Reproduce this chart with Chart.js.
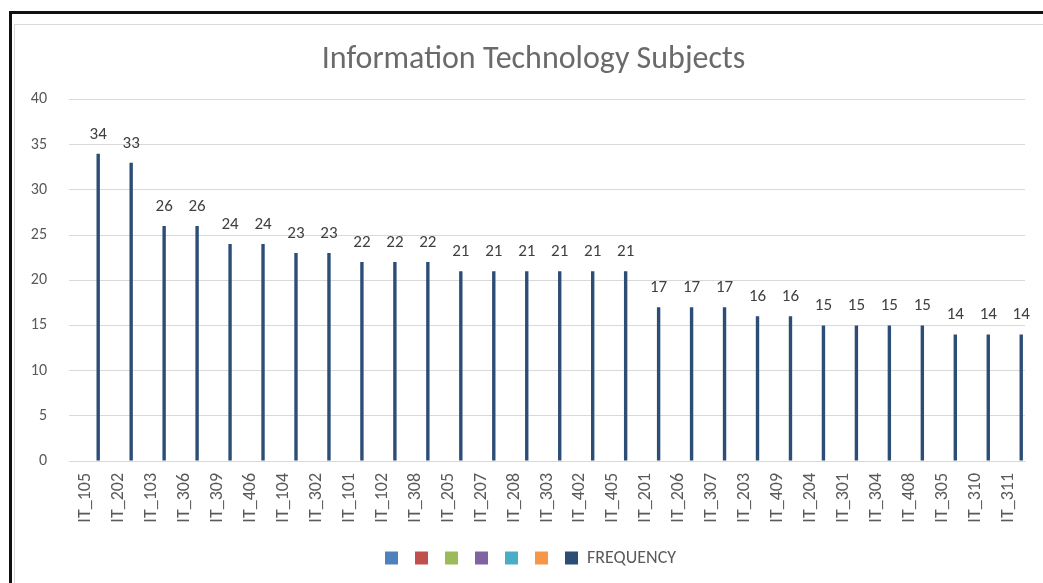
<!DOCTYPE html>
<html>
<head>
<meta charset="utf-8">
<script src="https://cdn.jsdelivr.net/npm/chart.js@4"></script>
<style>
  html, body { margin: 0; padding: 0; background: #fff; }
  #wrap { position: relative; width: 1043px; height: 583px; }
  canvas { display: block; }
</style>
</head>
<body>
<div id="wrap"><canvas id="c" width="1043" height="583"></canvas></div>
<script>
const categories = ["IT_105","IT_202","IT_103","IT_306","IT_309","IT_406","IT_104","IT_302","IT_101","IT_102",
  "IT_308","IT_205","IT_207","IT_208","IT_303","IT_402","IT_405","IT_201","IT_206","IT_307",
  "IT_203","IT_409","IT_204","IT_301","IT_304","IT_408","IT_305","IT_310","IT_311"];
const frequency = [34,33,26,26,24,24,23,23,22,22,22,21,21,21,21,21,21,17,17,17,16,16,15,15,15,15,14,14,14];
const emptySeriesColors = ["#4F81BD","#C0504D","#9BBB59","#8064A2","#4BACC6","#F79646"];
const frequencyColor = "#2C4D75";
const yTicks = [0,5,10,15,20,25,30,35,40];

const FONT = "Carlito, 'Liberation Sans', Arial, sans-serif";

const datasets = emptySeriesColors.map(col => ({
  label: "",
  data: categories.map(() => null),
  backgroundColor: col,
  borderWidth: 0
}));
datasets.push({
  label: "FREQUENCY",
  data: frequency,
  backgroundColor: frequencyColor,
  borderWidth: 0
});

const framePlugin = {
  id: "frame",
  afterLayout(chart) {
    // shift legend and title to sit where the reference has them
    if (chart.legend) { chart.legend.left += 18; chart.legend.right += 18; }
    if (chart.titleBlock) { chart.titleBlock.left += 21; chart.titleBlock.right += 21; }
  },
  beforeDraw(chart) {
    const ctx = chart.ctx;
    ctx.save();
    ctx.fillStyle = "#fff";
    ctx.fillRect(0, 0, chart.width, chart.height);
    ctx.fillStyle = "#111";
    ctx.fillRect(9, 11, chart.width - 9, 3);
    ctx.fillRect(9, 11, 3, chart.height - 11);
    ctx.fillStyle = "#D9D9D9";
    ctx.fillRect(14, 24, chart.width - 14, 1);
    ctx.fillRect(14, 24, 1, chart.height - 24);
    ctx.restore();
  }
};

const labelPlugin = {
  id: "valueLabels",
  afterDatasetsDraw(chart) {
    const ctx = chart.ctx;
    const idx = chart.data.datasets.length - 1;
    const meta = chart.getDatasetMeta(idx);
    ctx.save();
    ctx.font = "17px " + FONT;
    ctx.fillStyle = "#404040";
    ctx.textAlign = "center";
    ctx.textBaseline = "alphabetic";
    meta.data.forEach((bar, i) => {
      const v = chart.data.datasets[idx].data[i];
      if (v == null) return;
      ctx.fillText(String(v), bar.x, bar.y - 15);
    });
    ctx.restore();
  }
};

new Chart(document.getElementById("c"), {
  type: "bar",
  data: { labels: categories, datasets },
  options: {
    responsive: false,
    animation: false,
    devicePixelRatio: 1,
    layout: { padding: { left: 0, right: 18, top: 0, bottom: 6 } },
    datasets: { bar: { categoryPercentage: 0.9, barPercentage: 0.8 } },
    plugins: {
      title: {
        display: true,
        text: "Information Technology Subjects",
        color: "#6a6a6a",
        font: { family: FONT, size: 32, weight: "normal" },
        padding: { top: 41, bottom: 20 }
      },
      legend: {
        position: "bottom",
        labels: {
          color: "#595959",
          font: { family: FONT, size: 18 },
          boxWidth: 13,
          boxHeight: 13,
          padding: 8
        }
      },
      tooltip: { enabled: false }
    },
    scales: {
      x: {
        grid: { display: false, drawTicks: false },
        border: { display: true, color: "#D9D9D9" },
        ticks: {
          color: "#595959",
          font: { family: FONT, size: 18 },
          minRotation: 90,
          maxRotation: 90,
          padding: 12,
          autoSkip: false
        },
        afterFit(s) { s.height = 80; }
      },
      y: {
        min: 0,
        max: 40,
        afterBuildTicks(s) { s.ticks = yTicks.map(v => ({ value: v })); },
        grid: { color: "#D9D9D9", drawTicks: false },
        border: { display: false },
        ticks: {
          color: "#595959",
          font: { family: FONT, size: 16 },
          padding: 22
        },
        afterFit(s) { s.width = 69; }
      }
    }
  },
  plugins: [framePlugin, labelPlugin]
});
</script>
</body>
</html>
